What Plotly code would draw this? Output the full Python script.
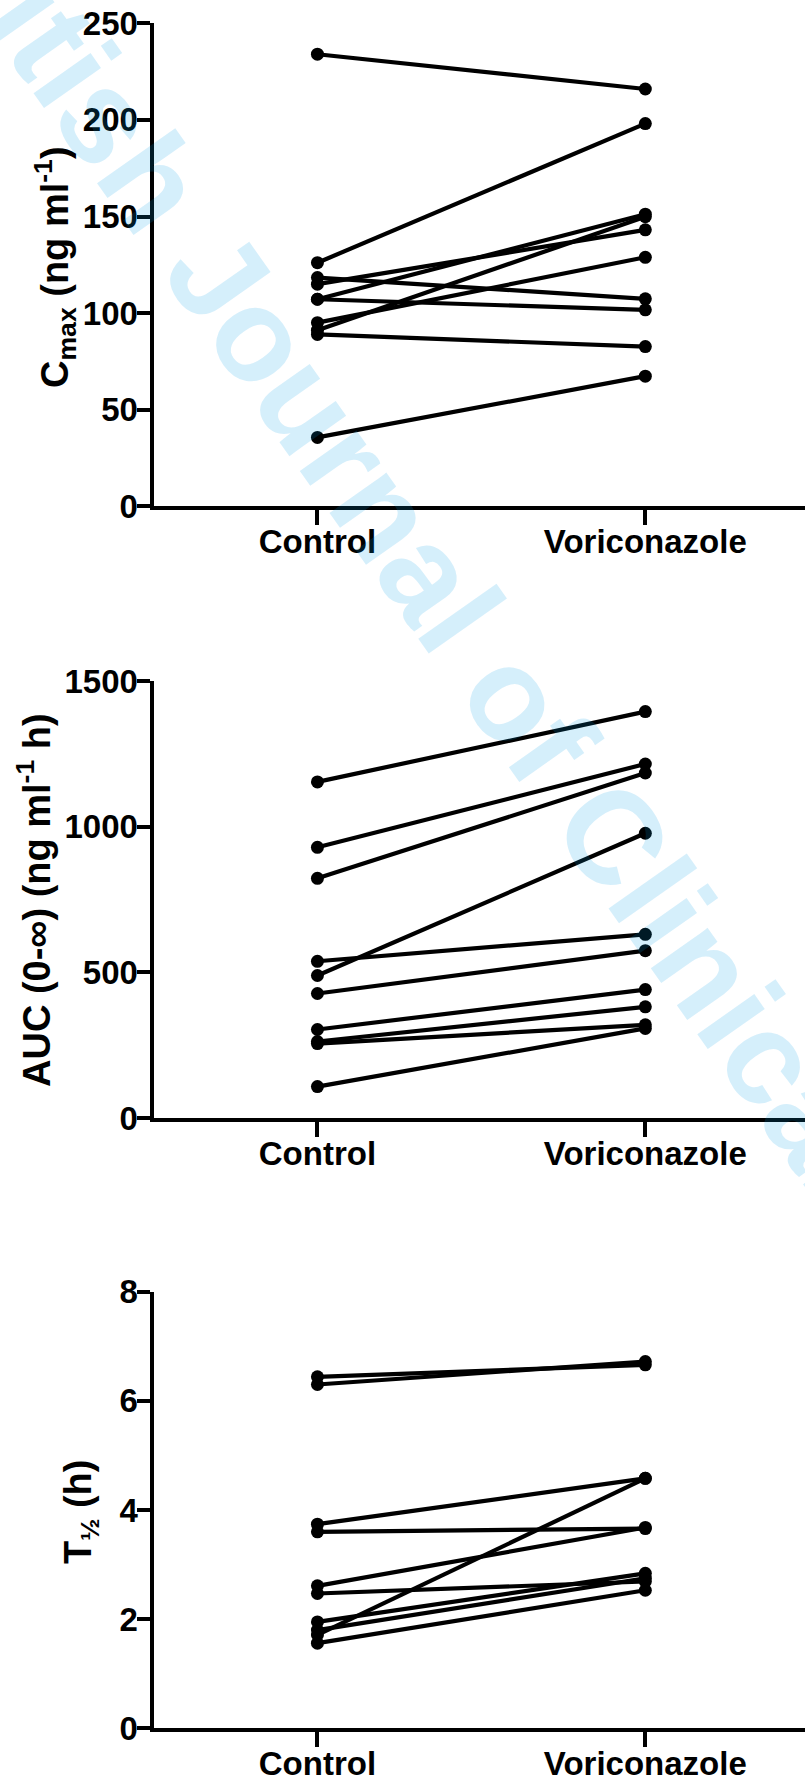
import plotly.graph_objects as go

categories = ["Control", "Voriconazole"]

cmax_control = [234.0, 126.1, 118.4, 115.0, 107.2, 107.2, 95.1, 91.2, 89.0, 35.7]
cmax_vori = [216.0, 198.1, 107.4, 143.1, 151.2, 101.7, 128.9, 149.9, 82.7, 67.4]

auc_control = [1154.5, 929.8, 823.4, 489.5, 538.3, 427.6, 304.0, 262.8, 255.6, 107.9]
auc_vori = [1396.0, 1216.0, 1185.0, 978.0, 631.0, 574.7, 441.0, 382.0, 320.0, 307.8]

thalf_control = [6.44, 6.30, 3.74, 3.60, 2.61, 2.47, 1.95, 1.80, 1.71, 1.56]
thalf_vori = [6.66, 6.72, 4.58, 3.66, 3.68, 2.69, 2.84, 2.75, 4.58, 2.53]

cmax_ticks = [0, 50, 100, 150, 200, 250]
auc_ticks = [0, 500, 1000, 1500]
thalf_ticks = [0, 2, 4, 6, 8]

W, H = 805, 1780
FONT = "Arial, Liberation Sans, Helvetica, sans-serif"

fig = go.Figure()

panels = [
    (cmax_control, cmax_vori, "x", "y"),
    (auc_control, auc_vori, "x2", "y2"),
    (thalf_control, thalf_vori, "x3", "y3"),
]
for ctrl, vori, xa, ya in panels:
    for c, v in zip(ctrl, vori):
        fig.add_trace(go.Scatter(
            x=categories, y=[c, v], xaxis=xa, yaxis=ya,
            mode="lines+markers",
            line=dict(color="black", width=4.2),
            marker=dict(color="black", size=13, symbol="circle"),
            showlegend=False, hoverinfo="skip", cliponaxis=False,
        ))

def ydom(top_px, bot_px):
    return [1 - bot_px / H, 1 - top_px / H]

xdom = [153.5 / W, 1.0]
tickfont = dict(family=FONT, size=33, color="black", weight="bold")

common_x = dict(
    type="category", categoryorder="array", categoryarray=categories,
    range=[-0.5, 1.487], domain=xdom, automargin=False,
    showline=True, linecolor="black", linewidth=4,
    ticks="outside", ticklen=15, tickwidth=4, tickcolor="black",
    showgrid=False, zeroline=False, tickfont=tickfont, ticklabelstandoff=-12,
)
common_y = dict(
    showline=True, linecolor="black", linewidth=4, automargin=False,
    ticks="outside", ticklen=13, tickwidth=4, tickcolor="black",
    showgrid=False, zeroline=False, tickfont=tickfont,
    tickmode="array", ticklabelstandoff=-8,
)

fig.update_layout(
    width=W, height=H,
    margin=dict(l=0, r=0, t=0, b=0, autoexpand=False),
    paper_bgcolor="white", plot_bgcolor="rgba(0,0,0,0)",
    xaxis=dict(common_x, anchor="y"),
    yaxis=dict(common_y, anchor="x", domain=ydom(23.3, 506.4), range=[0, 250],
               tickvals=cmax_ticks, ticktext=[str(t) for t in cmax_ticks]),
    xaxis2=dict(common_x, anchor="y2"),
    yaxis2=dict(common_y, anchor="x2", domain=ydom(681.3, 1118.0), range=[0, 1500],
                tickvals=auc_ticks, ticktext=[str(t) for t in auc_ticks]),
    xaxis3=dict(common_x, anchor="y3"),
    yaxis3=dict(common_y, anchor="x3", domain=ydom(1291.7, 1728.3), range=[0, 8],
                tickvals=thalf_ticks, ticktext=[str(t) for t in thalf_ticks]),
)

titlefont = dict(family=FONT, size=38, color="black", weight="bold")
titles = [
    ("C<sub>max</sub> (ng ml<sup>-1</sup>)", 55, 267),
    ("AUC (0-∞) (ng ml<sup>-1</sup> h)", 34, 900),
    ("T<sub>½</sub> (h)", 81, 1512),
]
annotations = [dict(
    text="British Journal of Clinical Pharmacology",
    xref="paper", yref="paper", x=668 / W, y=1 - 913 / H,
    xanchor="center", yanchor="middle", textangle=54.8, showarrow=False,
    font=dict(family=FONT, size=132, color="rgba(0,160,230,0.165)", weight="bold"),
)]
for txt, px, py in titles:
    annotations.append(dict(
        text=txt, xref="paper", yref="paper", x=px / W, y=1 - py / H,
        xanchor="center", yanchor="middle", textangle=-90, showarrow=False,
        font=titlefont,
    ))
fig.update_layout(annotations=annotations)

fig.write_html(
    "out.html",
    config={"displayModeBar": False},
    post_script="document.body.style.margin='0';document.body.style.overflow='hidden';",
)
